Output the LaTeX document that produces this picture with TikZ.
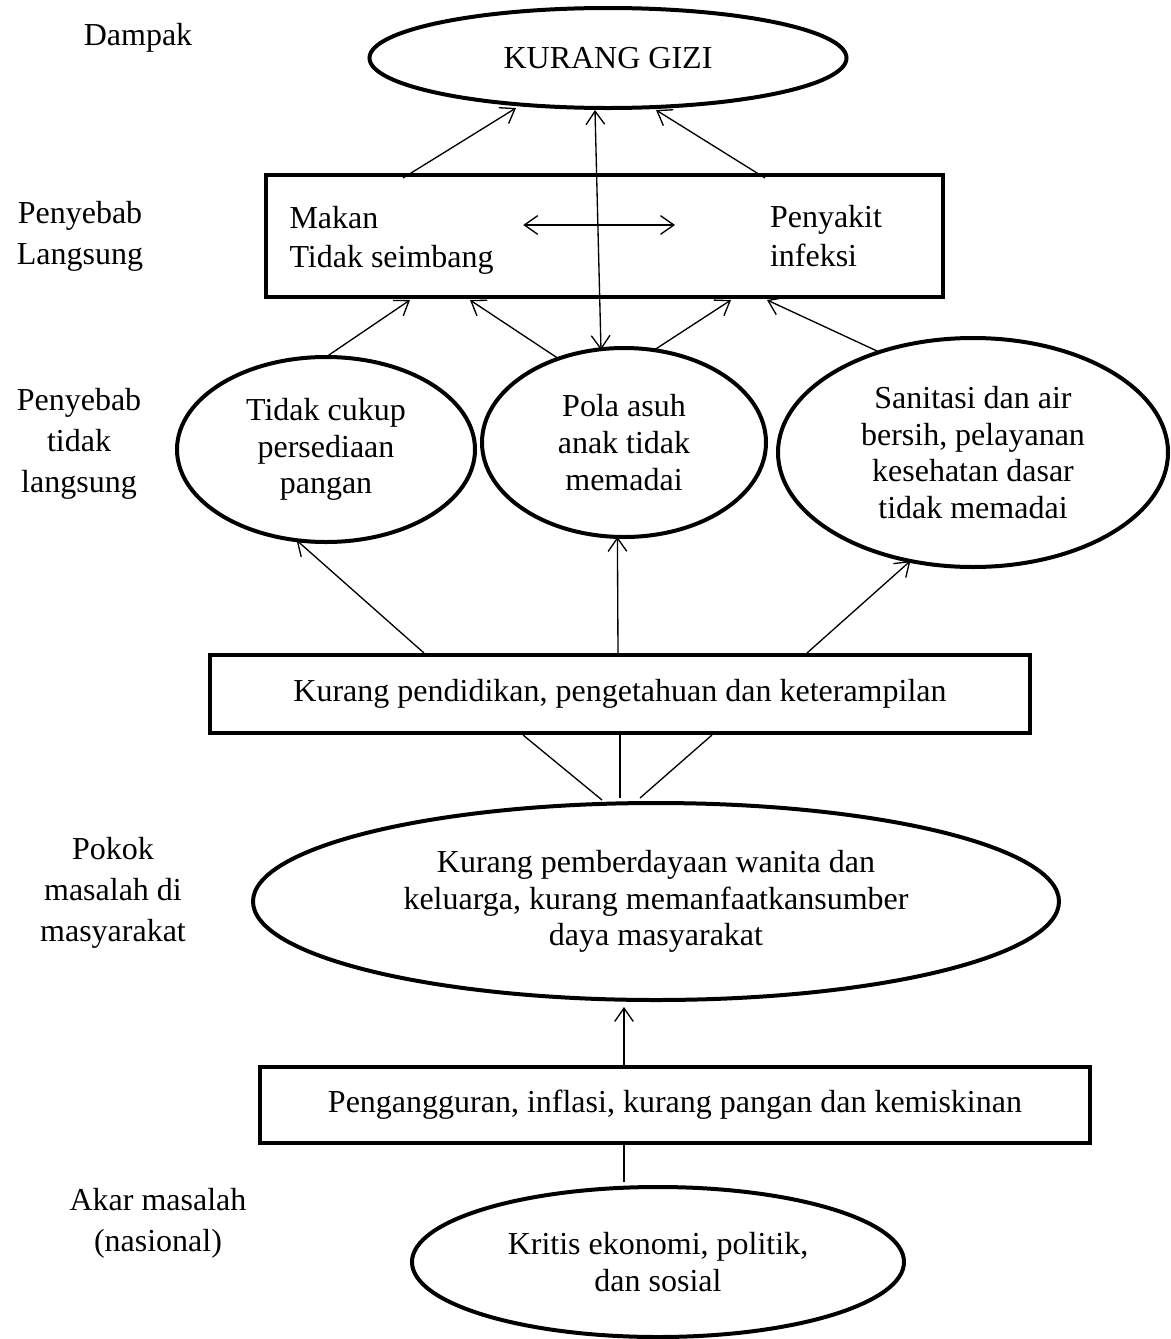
\documentclass[tikz,border=0pt]{standalone}
\usepackage{fontspec}
\setmainfont{Liberation Serif}
\usetikzlibrary{shapes.geometric,arrows.meta,calc}
\newcommand{\upx}{0.375pt}

\begin{document}
\begin{tikzpicture}[x=0.375pt, y=-0.375pt,
  font=\fontsize{12}{13.8}\selectfont,
  elips/.style={draw, ellipse, line width=1.5pt, inner sep=0pt, outer sep=0pt, align=center},
  kotak/.style={draw, line width=1.5pt, inner sep=0pt, outer sep=0pt, align=center},
  panah/.style={line width=0.5pt, -{Straight Barb[length=5pt,width=7pt]}},
  dua/.style={line width=0.5pt, {Straight Barb[length=5pt,width=7pt]}-{Straight Barb[length=5pt,width=7pt]}},
  garis/.style={line width=0.5pt},
  ket/.style={align=center, inner sep=0pt, font=\fontsize{12}{15.4}\selectfont}]
  \useasboundingbox (0,0) rectangle (1171,1339);
  % Level labels
  \node[ket] (dampak) at (138,38) {Dampak};
  \node[ket] (pl)     at (80,236) {Penyebab\\Langsung};
  \node[ket] (ptl)    at (79,444) {Penyebab\\tidak\\langsung};
  \node[ket] (pokok)  at (113,893) {Pokok\\masalah di\\masyarakat};
  \node[ket] (akar)   at (158,1223) {Akar masalah\\(nasional)};
  % Dampak
  \node[elips, minimum width=477*\upx, minimum height=100*\upx] (gizi) at (608,58) {KURANG GIZI};
  % Penyebab langsung
  \node[kotak, minimum width=677*\upx, minimum height=122*\upx] (langsung) at (604.5,236) {};
  \node[align=left, inner sep=0pt, anchor=west, font=\fontsize{12}{14.6}\selectfont] (makan) at (289,240) {Makan\\Tidak seimbang};
  \node[align=left, inner sep=0pt, anchor=west, font=\fontsize{12}{14.6}\selectfont] (infeksi) at (769.5,236.5) {Penyakit\\infeksi};
  % Penyebab tidak langsung
  \node[elips, minimum width=298*\upx, minimum height=185*\upx] (tidak) at (326,449.5) {Tidak cukup\\persediaan\\pangan};
  \node[elips, minimum width=284*\upx, minimum height=189*\upx] (pola) at (624,442.5) {Pola asuh\\anak tidak\\memadai};
  \node[elips, minimum width=390*\upx, minimum height=229*\upx] (san) at (973,452.5) {Sanitasi dan air\\bersih, pelayanan\\kesehatan dasar\\tidak memadai};
  \node[kotak, minimum width=820*\upx, minimum height=78*\upx] (kurpend) at (620,694) {Kurang pendidikan, pengetahuan dan keterampilan};
  % Pokok masalah
  \node[elips, minimum width=806*\upx, minimum height=197*\upx] (pemb) at (656,901.5) {Kurang pemberdayaan wanita dan\\keluarga, kurang memanfaatkansumber\\daya masyarakat};
  \node[kotak, minimum width=830*\upx, minimum height=76*\upx] (peng) at (675,1105) {Pengangguran, inflasi, kurang pangan dan kemiskinan};
  % Akar masalah
  \node[elips, minimum width=492*\upx, minimum height=150*\upx] (kritis) at (658,1262) {Kritis ekonomi, politik,\\dan sosial};

  % Arrows to dampak
  \draw[panah] ($(langsung.north west)+(137,3)$) -- ($(gizi.south)+(-92,0)$);
  \draw[panah] ($(langsung.north west)+(499,3)$) -- ($(gizi.south)+(48,2)$);
  \draw[dua] ($(gizi.south)+(-13,2)$) -- ($(pola.north)+(-23,2)$);
  \draw[dua] ($(makan.east)+(29,-15)$) -- ($(infeksi.west)+(-94.5,-11.5)$);
  % Indirect to direct causes
  \foreach \dari/\dx in {tidak.north/144, pola.128/204, pola.72/465, san.133/501}
    \draw[panah] (\dari) -- ($(langsung.south west)+(\dx,3)$);
  % Education to indirect causes
  \foreach \dx/\ke in {214/tidak.252, 408/pola.266, 597/san.240}
    \draw[panah] ($(kurpend.north west)+(\dx,-2)$) -- (\ke);
  % Community problem lines
  \foreach \dx/\ex/\ey in {313/-54/-3, 410/-36/-5, 502/-16/-5}
    \draw[garis] ($(kurpend.south west)+(\dx,2)$) -- ($(pemb.north)+(\ex,\ey)$);
  \draw[panah] ($(peng.north west)+(364,-2)$) -- ($(pemb.south)+(-32,7)$);
  \draw[garis] ($(peng.south west)+(364,2)$) -- ($(kritis.north)+(-34,-5)$);
\end{tikzpicture}
\end{document}
